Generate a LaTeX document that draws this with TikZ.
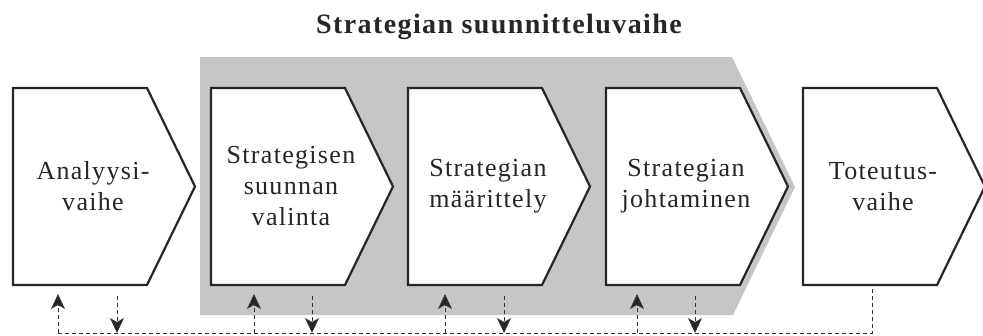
\documentclass[tikz,border=0pt]{standalone}
\usepackage{fontspec}
\setmainfont{Liberation Serif}[LetterSpace=5]
\usetikzlibrary{arrows.meta,calc}

\begin{document}
\begin{tikzpicture}[
        x=1pt, y=-1pt,
        phase/.style={draw=black!85, line width=2.2pt, fill=white, line join=miter},
        phaselabel/.style={align=center, text=black!85, font=\fontsize{26}{31}\selectfont},
        feedback/.style={draw=black!80, line width=0.9pt, dash pattern=on 4pt off 3pt},
        headed/.style={-{Stealth[length=15pt, width=14pt, inset=4pt, fill=black!85]}}
    ]
    \useasboundingbox (0,0) rectangle (983,335);
    % planning stage background
    \fill[gray!45] (200,57) -- (732,57) -- (795,187) -- (733,315) -- (200,315) -- cycle;
    \node[font=\bfseries\fontsize{28}{32}\selectfont, text=black!85] (title) at (499,27) {Strategian suunnitteluvaihe};
    % phases
    \foreach \name/\x/\txt in {analyysi/13/{Analyysi-\\vaihe},
                               suunta/211/{Strategisen\\suunnan\\valinta},
                               maarittely/408/{Strategian\\määrittely},
                               johtaminen/606/{Strategian\\johtaminen},
                               toteutus/803/{Toteutus-\\vaihe}}{
        \draw[phase] (\x,88) -- ++(134,0) -- ++(48,98.5) -- ++(-48,98.5) -- ++(-134,0) -- cycle;
        \node[phaselabel] (\name) at (\x+80,186.5) {\txt};
    }
    % feedback loop
    \coordinate (bus) at (0,333);
    \coordinate (toteutus-out) at (872,287);
    \foreach \name/\u/\d in {analyysi/58/117, suunta/254/312, maarittely/445/504, johtaminen/637/695}{
        \coordinate (\name-in) at (\u,294);
        \coordinate (\name-out) at (\d,296);
        \draw[feedback, headed] (\name-in |- bus) -- (\name-in);
        \draw[feedback, headed] (\name-out) -- (\name-out |- bus);
    }
    \draw[feedback] (analyysi-in |- bus) -- (toteutus-out |- bus) -- (toteutus-out);
\end{tikzpicture}
\end{document}
